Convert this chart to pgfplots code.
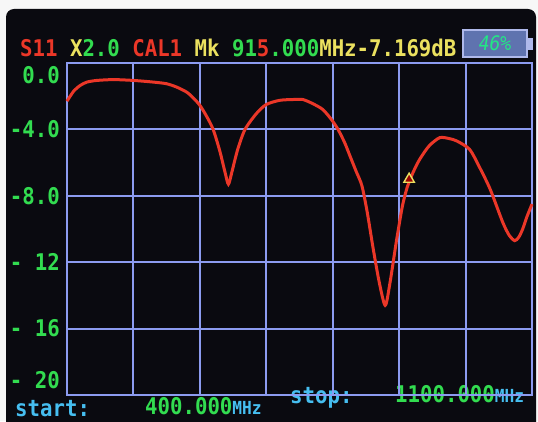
\documentclass[border=0pt]{standalone}
\usepackage{pgfplots}
\pgfplotsset{compat=1.18}
\usepackage{fontspec}
\newfontfamily\lcd[FakeStretch=0.9]{DejaVu Sans Mono}
\definecolor{lcdbg}{RGB}{10,10,16}
\definecolor{lred}{RGB}{235,55,40}
\definecolor{lgreen}{RGB}{50,220,80}
\definecolor{lyellow}{RGB}{235,225,95}
\definecolor{lcyan}{RGB}{70,190,240}
\definecolor{gridc}{RGB}{140,155,240}
\definecolor{battfill}{RGB}{95,115,175}
\definecolor{battline}{RGB}{175,185,235}

\begin{document}
\begin{tikzpicture}[x=1pt,y=1pt]
\useasboundingbox (0,0) rectangle (538,421);
\fill[white!94!gray] (0,0) rectangle (538,421);
\fill[lcdbg, rounded corners=8pt] (6,-10) -- (6,412) -- (536,412) -- (536,-10) -- cycle;

% header line
\node[anchor=base west, inner sep=0pt, font=\lcd\bfseries\fontsize{23}{23}\selectfont] at (20,364)
  {\color{lred}S11 \color{lyellow}X\color{lgreen}2.0 \color{lred}CAL1 \color{lyellow}Mk \color{lgreen}91\color{lred}5\color{lgreen}.000\color{lyellow}MHz-7.169dB};
\draw[fill=battfill, draw=battline, line width=1.2pt] (463,364) rectangle (527,391);
\fill[battline] (527,371) rectangle (533,383);
\node[inner sep=0pt, font=\lcd\fontsize{20}{20}\selectfont\itshape, text=lgreen!70!cyan] at (495,377.5) {46\%};

% footer line
\begin{scope}[every node/.style={anchor=base west, inner sep=0pt, font=\lcd\bfseries\fontsize{23}{23}\selectfont}]
\node[text=lcyan] at (15,5) {start:};
\node at (145,7) {\color{lgreen}400.000\color{lcyan}\fontsize{18}{18}\selectfont MHz};
\node[text=lcyan] at (290,18) {stop:};
\node at (395,19) {\color{lgreen}1100.000\color{lcyan}\fontsize{18}{18}\selectfont MHz};
\end{scope}

% S11 trace
\begin{axis}[
at={(67pt,26pt)}, anchor=south west,
width=465pt, height=332pt, scale only axis,
xmin=400, xmax=1100, ymin=-20, ymax=0,
xtick={400,500,600,700,800,900,1000,1100}, xticklabels={},
ytick={-4,-8,-12,-16},
yticklabels={-4.0,-8.0,- 12,- 16},
extra y ticks={-0.72,-19.1},
extra y tick labels={0.0,- 20},
extra y tick style={grid=none},
major tick length=0pt,
yticklabel style={font=\lcd\bfseries\fontsize{23}{23}\selectfont, text=lgreen, anchor=east, inner sep=0pt, xshift=-7pt},
grid=major,
major grid style={draw=gridc, line width=2pt},
axis line style={draw=gridc, line width=2.2pt},
axis background/.style={fill=none},
clip=false,
]
\addplot[color=lred, line width=3pt, smooth, tension=0.45] coordinates {
(400,-2.3)(410,-1.7)(420,-1.35)(430,-1.15)(445,-1.05)(470,-1.0)(500,-1.05)
(530,-1.15)(550,-1.25)(565,-1.45)(580,-1.75)(590,-2.1)(600,-2.55)(610,-3.2)
(620,-4.0)(630,-5.3)(638,-6.6)(643,-7.3)(648,-6.6)(657,-5.2)(668,-4.0)
(685,-3.05)(700,-2.5)(720,-2.25)(740,-2.2)(755,-2.2)(770,-2.45)(785,-2.8)
(798,-3.4)(808,-4.0)(818,-4.8)(826,-5.6)(835,-6.5)(844,-7.4)(852,-9.0)
(861,-11.2)(870,-13.2)(879,-14.6)(886,-13.3)(896,-10.7)(905,-8.6)(912,-7.5)
(915,-7.17)(922,-6.5)(931,-5.8)(945,-5.0)(961,-4.5)(975,-4.55)(987,-4.7)
(1006,-5.2)(1020,-6.2)(1037,-7.6)(1056,-9.6)(1066,-10.4)(1074,-10.7)
(1080,-10.5)(1086,-10.0)(1092,-9.3)(1100,-8.5)
};
\addplot[only marks, mark=triangle*, mark size=6pt,
  mark options={draw=lyellow, fill=red!60!black, line width=1.4pt}] coordinates {(915,-7.0)};
\end{axis}
\end{tikzpicture}
\end{document}
